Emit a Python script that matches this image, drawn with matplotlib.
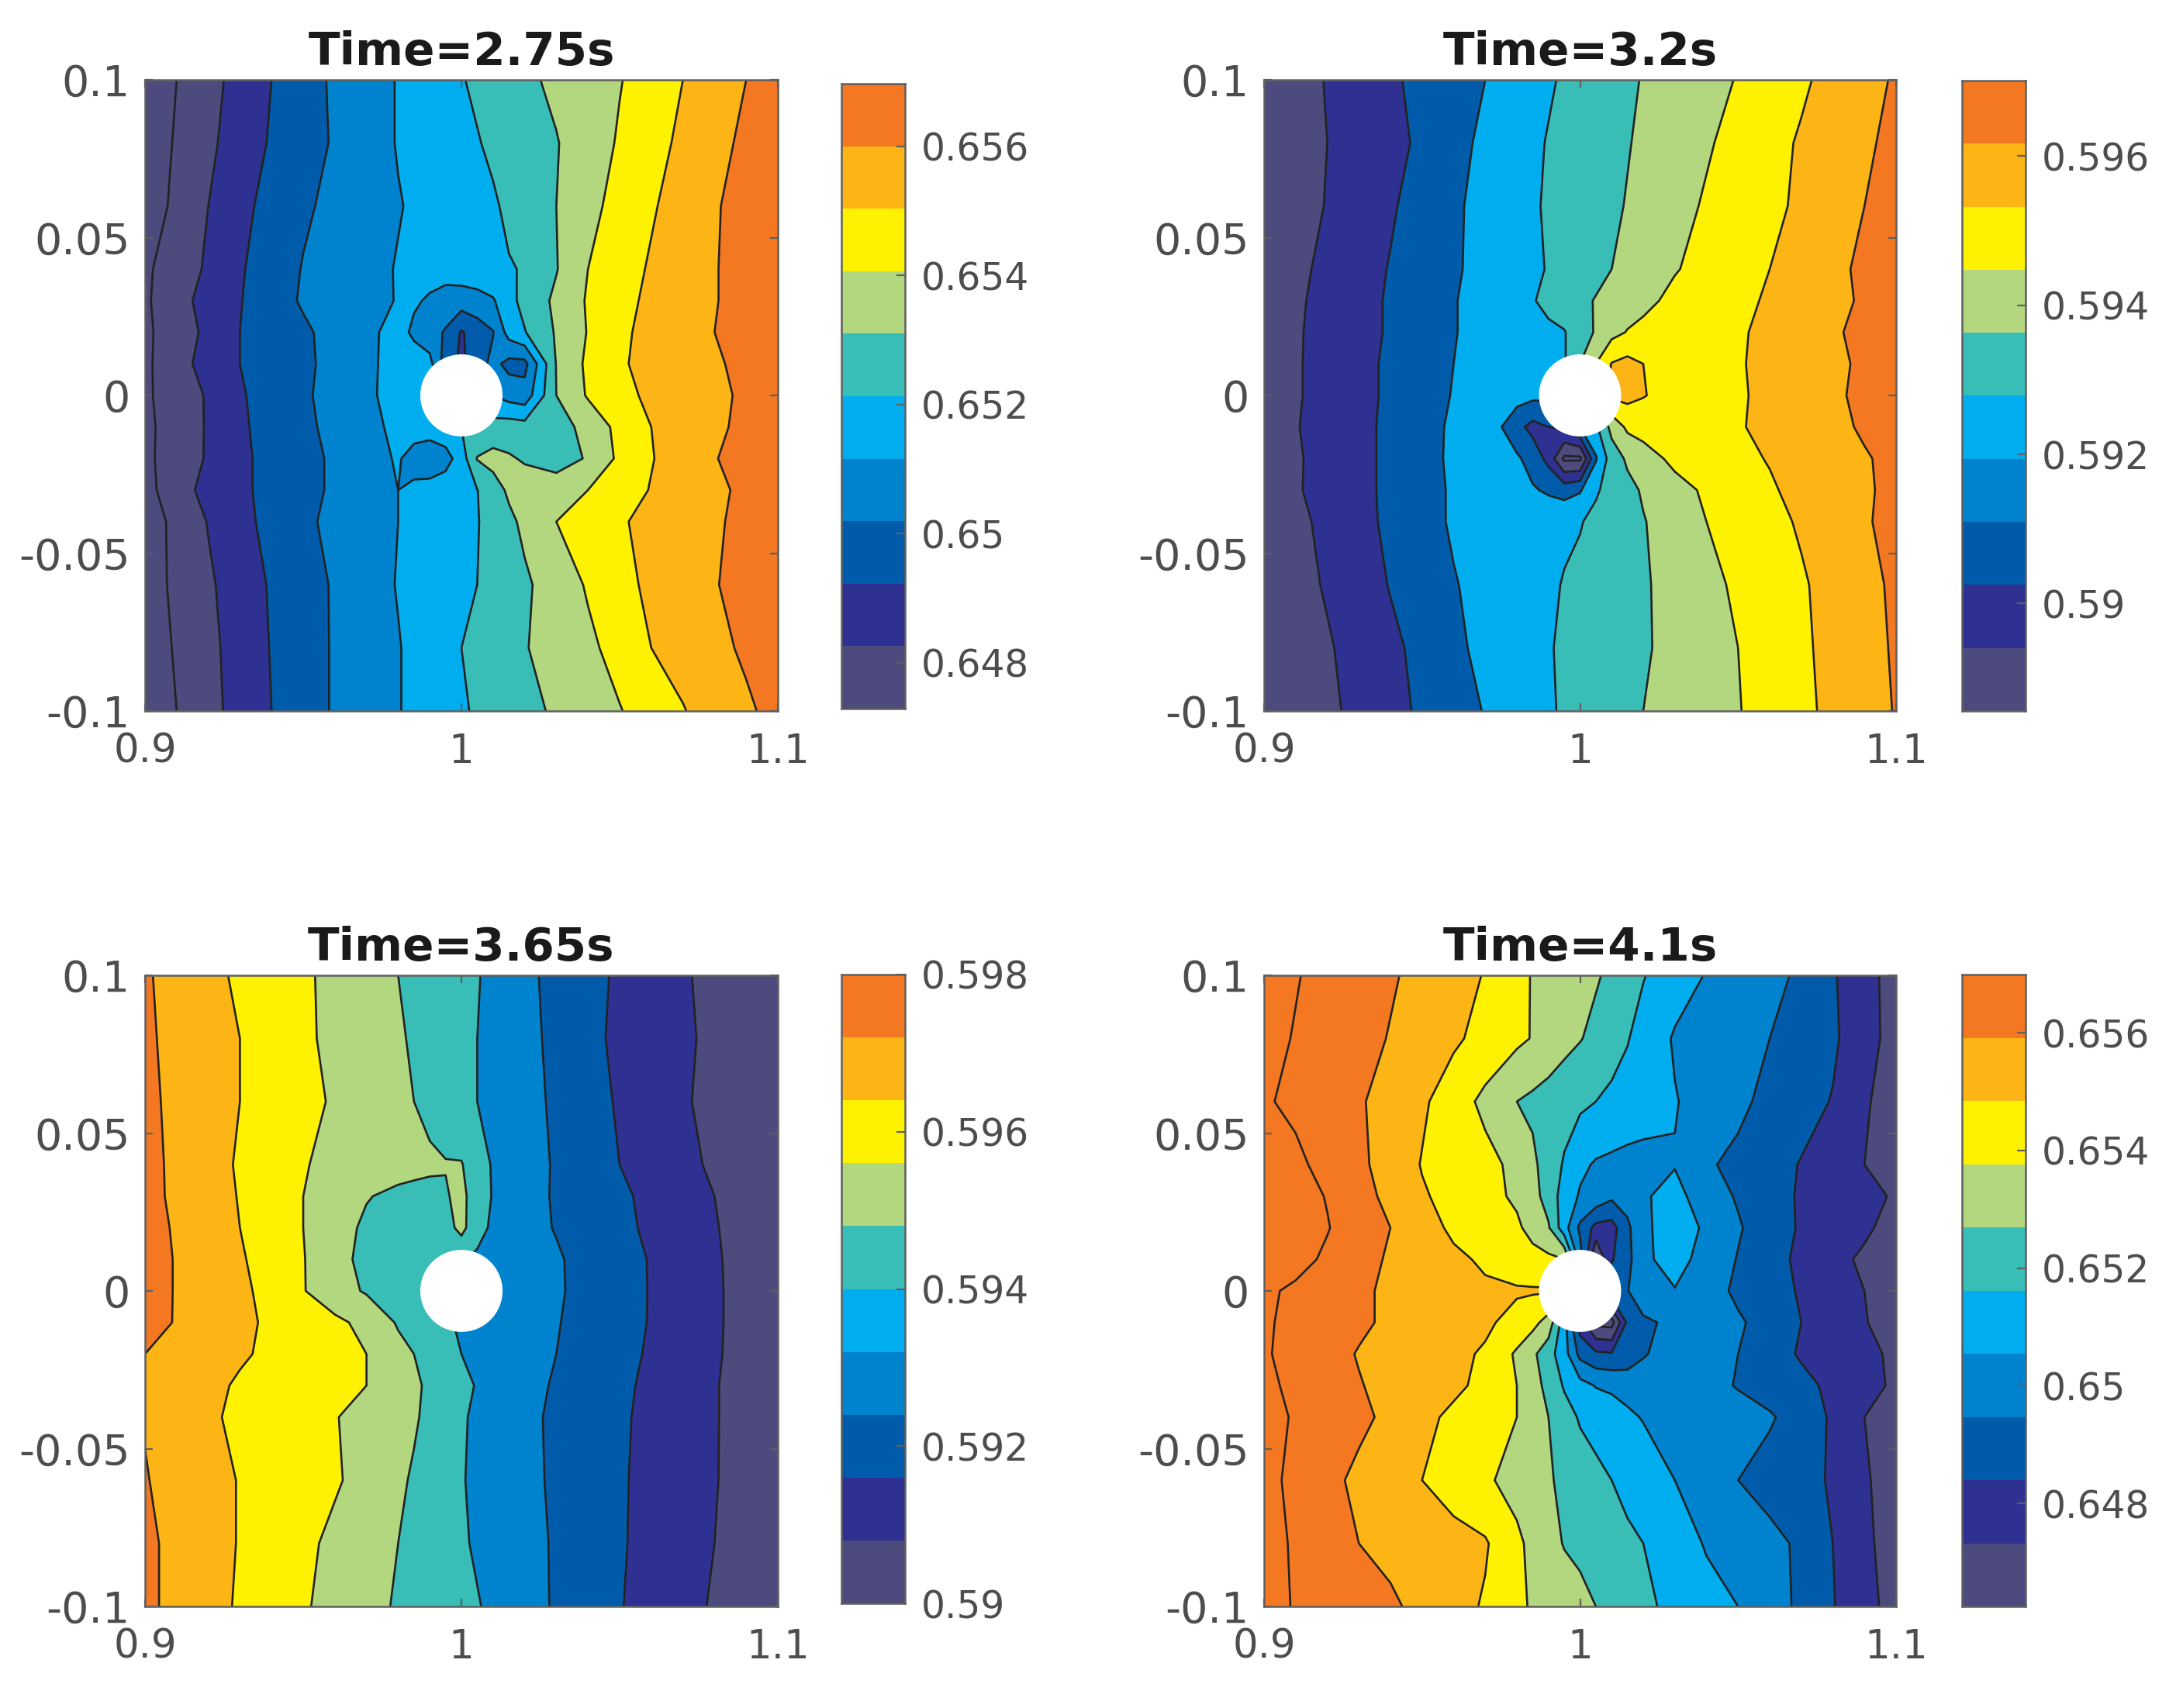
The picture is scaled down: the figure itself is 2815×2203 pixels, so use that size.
import numpy as np
import matplotlib
matplotlib.use("Agg")
import matplotlib.pyplot as plt
from matplotlib.patches import Circle
from matplotlib.colors import ListedColormap

W, H = 2815, 2203
x_nodes = [0.90,0.91,0.92,0.93,0.94,0.95,0.96,0.97,0.98,0.985,0.99,0.995,1.00,1.005,1.01,1.015,1.02,1.03,1.04,1.05,1.06,1.07,1.08,1.09,1.10]
y_nodes = [0.10,0.08,0.06,0.04,0.03,0.02,0.01,0.0,-0.01,-0.02,-0.03,-0.04,-0.06,-0.08,-0.10]
hole_radius = 0.013

# Field values, expressed in contour-level units
z_275 = [
[-0.7,0.0,0.66,1.35,2.0,2.6,3.15,3.6,4.05,4.26,4.5,4.7,4.95,5.15,5.4,5.6,5.8,6.2,6.6,6.95,7.45,8.0,8.45,9.0,9.5],
[-0.6,0.1,0.8,1.47,2.1,2.6,3.1,3.6,4.05,4.23,4.4,4.6,4.8,4.95,5.15,5.35,5.55,5.95,6.5,7.1,7.65,8.2,8.7,9.2,9.7],
[-0.5,0.2,1.0,1.75,2.3,2.85,3.25,3.6,3.95,4.1,4.25,4.4,4.55,4.75,4.9,5.15,5.4,6.0,6.7,7.35,7.9,8.4,8.9,9.4,9.9],
[-0.15,0.45,1.15,1.9,2.5,3.05,3.4,3.75,4.05,4.2,4.3,4.4,4.55,4.7,4.8,4.95,5.05,5.95,7.0,7.6,8.1,8.5,8.95,9.35,9.75],
[-0.15,0.65,1.35,1.95,2.6,3.1,3.45,3.7,4.05,4.1,3.9,3.6,3.5,3.6,3.9,4.7,5.3,6.2,7.1,7.7,8.2,8.6,8.95,9.35,9.75],
[-0.2,0.55,1.2,2.0,2.4,2.85,3.3,3.8,4.3,3.85,3.4,2.9,1.9,2.5,2.95,4.4,4.95,6.1,7.05,7.8,8.3,8.6,9.0,9.35,9.7],
[-0.2,0.65,1.35,2.0,2.4,2.8,3.3,3.8,4.35,4.4,4.3,2.5,1.8,2.5,3.3,2.7,2.7,6.05,7.2,7.9,8.25,8.55,8.85,9.3,9.7],
[-0.15,0.45,1.1,1.9,2.4,2.85,3.35,3.85,4.3,4.5,4.4,4.4,4.4,4.4,4.0,3.6,3.4,6.0,7.1,7.7,8.2,8.5,8.8,9.15,9.5],
[-0.2,0.4,1.1,1.85,2.35,2.8,3.25,3.75,4.2,4.45,4.5,4.7,5.0,5.2,5.4,5.5,5.4,5.6,6.3,7.3,8.0,8.4,8.8,9.25,9.7],
[-0.2,0.45,1.1,1.8,2.3,2.7,3.15,3.6,4.1,3.6,3.3,3.6,4.5,6.05,6.3,6.1,5.9,5.5,6.1,7.2,7.95,8.45,8.95,9.4,9.8],
[-0.35,0.6,1.3,1.8,2.3,2.7,3.15,3.55,4.0,4.2,4.4,4.6,4.8,4.98,5.6,6.15,6.45,6.6,7.0,7.55,8.05,8.4,8.8,9.2,9.6],
[-0.5,0.25,1.05,1.7,2.3,2.8,3.25,3.65,4.0,4.2,4.4,4.6,4.8,4.95,5.35,5.8,6.2,7.0,7.45,7.9,8.25,8.6,8.9,9.2,9.5],
[-0.45,0.2,0.85,1.5,2.1,2.6,3.1,3.6,4.05,4.25,4.45,4.63,4.8,5.0,5.3,5.6,5.85,6.45,7.1,7.7,8.2,8.55,8.95,9.3,9.7],
[-0.55,0.1,0.75,1.4,2.05,2.55,3.1,3.5,3.95,4.2,4.45,4.75,5.0,5.25,5.45,5.7,5.95,6.35,6.8,7.35,8.0,8.35,8.75,9.15,9.55],
[-0.7,0.0,0.7,1.35,2.0,2.55,3.1,3.5,3.95,4.2,4.45,4.65,4.9,5.1,5.3,5.5,5.7,6.15,6.55,6.95,7.45,7.95,8.4,8.85,9.3],
]
z_320 = [
[0.3,0.65,1.05,1.45,1.85,2.25,2.6,3.0,3.45,3.65,3.9,4.1,4.3,4.45,4.65,4.85,5.05,5.35,5.7,6.05,6.45,6.85,7.3,7.7,8.1],
[0.3,0.65,1.0,1.4,1.75,2.15,2.7,3.2,3.6,3.85,4.05,4.2,4.4,4.55,4.75,4.95,5.15,5.5,5.9,6.3,6.7,7.1,7.45,7.85,8.25],
[0.2,0.6,1.05,1.45,1.9,2.35,2.85,3.3,3.7,3.9,4.1,4.3,4.45,4.7,4.85,5.05,5.25,5.7,6.1,6.35,6.8,7.15,7.6,8.0,8.4],
[0.3,0.8,1.2,1.65,2.05,2.45,2.9,3.25,3.65,3.85,4.05,4.25,4.5,4.75,5.0,5.25,5.5,5.95,6.25,6.6,7.0,7.35,7.75,8.2,8.55],
[0.45,0.85,1.3,1.7,2.1,2.5,2.95,3.35,3.75,3.95,4.2,4.5,4.8,5.05,5.3,5.55,5.8,6.2,6.5,6.8,7.1,7.45,7.8,8.1,8.45],
[0.5,0.9,1.3,1.7,2.1,2.55,2.95,3.35,3.75,3.85,3.85,3.95,4.5,5.1,5.7,6.05,6.2,6.4,6.6,6.9,7.2,7.55,7.9,8.2,8.6],
[0.5,0.9,1.35,1.75,2.15,2.6,3.0,3.4,3.7,3.75,3.8,3.9,5.0,6.0,7.05,7.3,7.0,6.55,6.7,6.95,7.15,7.4,7.75,8.2,8.55],
[0.5,0.9,1.35,1.75,2.15,2.6,3.05,3.45,3.4,3.25,3.2,3.3,5.0,6.0,7.2,7.3,7.05,6.6,6.6,6.9,7.2,7.55,7.85,8.2,8.55],
[0.55,0.95,1.35,1.75,2.2,2.65,3.15,3.75,2.3,1.7,2.0,2.2,3.0,3.8,5.3,6.2,6.4,6.55,6.75,6.95,7.15,7.4,7.7,8.15,8.5],
[0.5,0.9,1.3,1.75,2.2,2.7,3.15,3.5,3.15,2.6,1.7,-0.2,-0.2,2.9,4.5,5.15,5.55,6.25,6.55,6.8,7.05,7.4,7.65,7.9,8.3],
[0.45,0.9,1.35,1.75,2.2,2.7,3.1,3.4,3.7,3.1,2.85,2.6,2.9,3.9,4.3,4.75,5.1,5.65,6.15,6.5,6.9,7.25,7.6,7.9,8.2],
[0.25,0.75,1.25,1.7,2.2,2.7,3.1,3.3,3.5,3.65,3.75,3.85,3.95,4.2,4.45,4.7,4.95,5.45,6.0,6.35,6.75,7.1,7.5,7.9,8.3],
[0.2,0.65,1.1,1.55,2.05,2.5,2.95,3.25,3.55,3.7,3.85,4.05,4.2,4.4,4.55,4.75,4.9,5.3,5.75,6.15,6.55,6.9,7.3,7.75,8.15],
[0.05,0.45,0.9,1.35,1.8,2.25,2.8,3.25,3.55,3.75,3.95,4.1,4.25,4.4,4.6,4.75,4.9,5.25,5.6,6.0,6.4,6.85,7.25,7.7,8.1],
[0.05,0.35,0.8,1.25,1.7,2.15,2.6,3.05,3.45,3.65,3.9,4.1,4.25,4.45,4.6,4.8,5.0,5.3,5.65,5.95,6.4,6.8,7.2,7.65,8.05],
]
z_365 = [
[8.1,7.7,7.25,6.85,6.5,6.15,5.75,5.35,5.0,4.8,4.6,4.4,4.2,4.05,3.8,3.5,3.2,2.75,2.3,1.85,1.5,1.1,0.75,0.4,0.0],
[8.15,7.75,7.35,7.0,6.55,6.15,5.8,5.4,5.1,4.9,4.65,4.45,4.2,4.0,3.75,3.5,3.3,2.75,2.25,1.8,1.45,1.15,0.8,0.45,0.1],
[8.2,7.8,7.4,7.0,6.65,6.25,5.9,5.55,5.2,5.0,4.75,4.5,4.25,4.0,3.8,3.55,3.3,2.85,2.35,1.9,1.5,1.1,0.75,0.4,0.1],
[8.3,7.8,7.35,6.9,6.45,6.05,5.8,5.6,5.35,5.25,5.15,5.05,5.05,4.5,3.9,3.65,3.4,2.9,2.45,2.0,1.65,1.25,0.85,0.5,0.15],
[8.25,7.85,7.4,6.95,6.45,6.0,5.5,5.05,4.8,4.75,4.75,4.9,5.3,4.4,3.95,3.65,3.35,2.9,2.5,2.15,1.8,1.4,1.0,0.6,0.25],
[8.35,7.9,7.45,7.0,6.55,6.0,5.35,4.85,4.65,4.6,4.5,4.6,5.3,4.3,3.85,3.6,3.3,2.95,2.6,2.2,1.85,1.45,1.05,0.7,0.35],
[8.35,7.95,7.5,7.1,6.6,6.05,5.25,4.8,4.7,4.6,4.5,4.3,4.1,3.85,3.7,3.55,3.35,3.1,2.7,2.3,1.95,1.55,1.1,0.7,0.35],
[8.35,7.95,7.6,7.2,6.7,6.05,5.4,4.9,4.5,4.2,4.1,4.0,3.9,3.8,3.7,3.55,3.4,3.1,2.75,2.35,1.95,1.55,1.1,0.75,0.35],
[8.3,7.95,7.6,7.2,6.85,6.55,6.2,5.75,4.9,4.6,4.4,4.1,3.9,3.75,3.65,3.5,3.4,3.05,2.7,2.3,1.95,1.55,1.1,0.75,0.35],
[8.0,7.7,7.4,7.1,6.85,6.6,6.3,6.0,5.3,5.0,4.65,4.35,4.0,3.85,3.65,3.5,3.3,3.0,2.65,2.25,1.9,1.5,1.1,0.7,0.35],
[7.75,7.55,7.2,6.9,6.7,6.45,6.2,6.0,5.45,5.15,4.85,4.55,4.2,3.95,3.7,3.5,3.3,2.9,2.55,2.2,1.8,1.45,1.05,0.7,0.3],
[7.95,7.55,7.15,6.8,6.5,6.25,6.05,5.65,5.3,5.1,4.8,4.45,4.1,3.85,3.65,3.4,3.2,2.85,2.5,2.15,1.75,1.4,1.05,0.7,0.3],
[8.05,7.7,7.35,6.95,6.7,6.4,6.1,5.7,5.15,4.9,4.6,4.35,4.05,3.85,3.65,3.45,3.25,2.85,2.5,2.1,1.75,1.4,1.05,0.65,0.25],
[8.2,7.75,7.35,6.95,6.6,6.2,5.8,5.4,5.0,4.8,4.55,4.3,4.1,3.9,3.7,3.5,3.3,2.9,2.5,2.1,1.7,1.35,1.0,0.65,0.3],
[8.2,7.75,7.3,6.9,6.5,6.1,5.7,5.3,4.9,4.75,4.6,4.4,4.25,4.05,3.85,3.6,3.35,2.9,2.45,2.05,1.65,1.3,0.9,0.55,0.2],
]
z_410 = [
[10.4,10.05,9.75,9.4,9.1,8.75,8.35,7.95,7.25,6.95,6.7,6.5,6.3,6.1,5.8,5.4,5.05,4.45,3.95,3.6,3.25,2.85,2.1,1.35,0.6],
[10.25,9.95,9.65,9.3,8.95,8.55,8.15,7.7,7.2,6.95,6.65,6.3,6.05,5.75,5.4,5.05,4.65,3.9,3.6,3.3,3.0,2.55,2.15,1.4,0.6],
[10.1,9.8,9.45,9.1,8.65,8.15,7.5,6.75,6.0,5.8,5.6,5.4,5.2,5.0,4.8,4.65,4.45,4.05,3.65,3.2,2.75,2.35,1.95,1.15,0.4],
[10.7,10.2,9.7,9.2,8.6,7.95,7.6,7.3,6.75,6.2,5.55,4.9,4.2,3.9,3.8,3.7,3.7,3.95,3.1,2.8,2.35,1.95,1.45,1.0,0.5],
[11.0,10.4,9.95,9.35,8.75,8.1,7.7,7.3,6.85,6.35,5.6,4.55,3.9,3.7,3.2,3.4,3.9,4.3,3.5,2.9,2.35,1.9,1.55,1.25,0.9],
[10.95,10.45,10.05,9.5,9.0,8.45,7.8,7.5,7.15,6.7,6.1,4.4,2.8,1.7,1.6,2.8,3.8,4.5,3.85,3.1,2.45,1.9,1.45,1.2,0.55],
[10.85,10.3,9.85,9.3,8.9,8.5,8.2,7.85,7.5,7.3,7.2,7.0,3.5,-0.1,1.9,2.7,3.8,4.4,3.6,2.95,2.35,1.8,1.35,0.8,0.4],
[10.15,9.85,9.5,9.15,8.85,8.6,8.35,8.15,8.1,8.1,8.1,8.0,5.0,3.0,2.8,2.95,3.7,3.95,3.35,2.85,2.4,1.9,1.5,1.0,0.55],
[10.1,9.8,9.5,9.15,8.85,8.65,8.4,8.15,7.7,7.3,6.6,4.4,1.5,-0.3,-0.4,2.2,2.8,3.25,3.15,3.1,2.7,2.0,1.5,1.05,0.6],
[10.1,9.7,9.3,8.95,8.7,8.45,8.2,7.9,6.85,6.2,5.4,4.4,2.7,2.2,2.1,2.3,2.9,3.55,3.3,3.0,2.4,1.9,1.55,1.2,0.85],
[10.2,9.8,9.4,9.05,8.75,8.5,8.2,7.75,7.0,6.4,5.7,4.9,4.35,3.95,3.85,3.7,3.6,3.45,3.25,2.95,2.6,2.25,1.8,1.3,0.85],
[10.35,9.9,9.55,9.2,8.8,8.25,7.8,7.4,7.0,6.5,6.0,5.4,4.9,4.65,4.4,4.15,3.95,3.75,3.5,3.3,3.1,2.6,1.85,1.0,0.5],
[10.25,9.8,9.25,8.8,8.4,8.0,7.6,7.15,6.65,6.35,6.1,5.8,5.5,5.25,5.0,4.7,4.5,4.0,3.5,3.0,2.65,2.3,1.9,1.15,0.4],
[10.3,9.9,9.45,9.0,8.75,8.5,8.3,8.1,7.2,6.75,6.3,5.95,5.8,5.55,5.35,5.2,5.0,4.6,3.9,3.55,3.25,2.85,2.0,1.25,0.45],
[10.25,9.95,9.7,9.4,9.15,8.75,8.35,7.9,7.2,6.9,6.7,6.45,6.25,6.0,5.75,5.5,5.2,4.75,4.4,4.0,3.45,2.8,2.05,1.35,0.6],
]

titles = ["Time=2.75s", "Time=3.2s", "Time=3.65s", "Time=4.1s"]
x_ticks = [0.9, 1.0, 1.1]
x_tick_labels = ["0.9", "1", "1.1"]
y_ticks = [-0.1, -0.05, 0, 0.05, 0.1]
y_tick_labels = ["-0.1", "-0.05", "0", "0.05", "0.1"]

cbar_limits = [(0.64729, 0.65697), (0.58856, 0.59701), (0.59, 0.598), (0.64625, 0.65699)]
cbar_ticks = [[0.648, 0.65, 0.652, 0.654, 0.656], [0.59, 0.592, 0.594, 0.596],
              [0.59, 0.592, 0.594, 0.596, 0.598], [0.648, 0.65, 0.652, 0.654, 0.656]]
cbar_labels = [["0.648", "0.65", "0.652", "0.654", "0.656"], ["0.59", "0.592", "0.594", "0.596"],
               ["0.59", "0.592", "0.594", "0.596", "0.598"], ["0.648", "0.65", "0.652", "0.654", "0.656"]]

GRAY, NAVY, DARK, MID, LIGHT = "#4d4a7e", "#2e3192", "#005bab", "#0083ce", "#00aeef"
TEAL, GREEN, YELLOW, AMBER, ORANGE = "#38bdb7", "#b2d77f", "#fff200", "#fdb515", "#f47721"
band_colors = [GRAY, NAVY, DARK, MID, LIGHT, TEAL, GREEN, YELLOW, AMBER, ORANGE]

panel_lines = [list(range(0, 10)), list(range(0, 9)), list(range(1, 9)), list(range(0, 11))]
panel_colors = [
    [GRAY, GRAY, NAVY, DARK, MID, LIGHT, TEAL, GREEN, YELLOW, AMBER, ORANGE],
    [GRAY, GRAY, NAVY, DARK, LIGHT, TEAL, GREEN, YELLOW, AMBER, ORANGE],
    [GRAY, NAVY, DARK, MID, TEAL, GREEN, YELLOW, AMBER, ORANGE],
    [GRAY, GRAY, NAVY, DARK, MID, LIGHT, TEAL, GREEN, YELLOW, AMBER, ORANGE, ORANGE],
]
fields = [z_275, z_320, z_365, z_410]

ax_boxes = [(187, 103, 1003, 917), (1630, 103, 2445, 917), (187, 1258, 1003, 2072), (1630, 1258, 2445, 2072)]
cb_boxes = [(1085, 108, 1167, 914), (2530, 104, 2612, 917), (1085, 1257, 1167, 2068), (2530, 1257, 2612, 2072)]

TICK = "#4d4d4d"
EDGE = "#5f5f5f"
plt.rcParams["font.family"] = "DejaVu Sans"

fig = plt.figure(figsize=(W / 100, H / 100), dpi=100, facecolor="white")

def add_axes(box):
    l, t, r, b = box
    return fig.add_axes([l / W, 1 - b / H, (r - l) / W, (b - t) / H])

for i in range(4):
    ax = add_axes(ax_boxes[i])
    z = np.array(fields[i])[::-1]
    y = np.array(y_nodes)[::-1]
    lv = panel_lines[i]
    bounds = [-50] + lv + [50]
    ax.contourf(x_nodes, y, z, levels=bounds, colors=panel_colors[i])
    ax.contour(x_nodes, y, z, levels=lv, colors="#222222", linewidths=1.9)
    ax.add_patch(Circle((1.0, 0.0), hole_radius, facecolor="white", edgecolor="none", zorder=5))
    ax.set_xlim(0.9, 1.1)
    ax.set_ylim(-0.1, 0.1)
    ax.set_xticks(x_ticks, x_tick_labels)
    ax.set_yticks(y_ticks, y_tick_labels)
    ax.tick_params(direction="in", length=7, width=1.6, color=EDGE, labelcolor=TICK,
                   top=True, right=True, zorder=6)
    ax.tick_params(axis="x", pad=20, labelsize=37)
    ax.tick_params(axis="y", pad=14, labelsize=40)
    for s in ax.spines.values():
        s.set_color(EDGE)
        s.set_linewidth(1.8)
        s.set_zorder(7)
    ax.set_title(titles[i], fontsize=42.8, fontweight="bold", color="#1a1a1a", pad=14)

    cax = add_axes(cb_boxes[i])
    lo, hi = cbar_limits[i]
    edges = np.linspace(lo, hi, len(band_colors) + 1)
    cmap = ListedColormap(band_colors)
    cax.pcolormesh([0, 1], edges, np.arange(len(band_colors)).reshape(-1, 1), cmap=cmap, shading="flat")
    cax.set_xlim(0, 1)
    cax.set_ylim(lo, hi)
    cax.set_xticks([])
    cax.yaxis.tick_right()
    cax.set_yticks(cbar_ticks[i], cbar_labels[i])
    cax.tick_params(axis="y", direction="in", length=8, width=1.6, color=EDGE, labelcolor=TICK,
                    labelsize=35, pad=15)
    for s in cax.spines.values():
        s.set_color(EDGE)
        s.set_linewidth(1.8)

fig.savefig("out.png", dpi=100, facecolor="white")
